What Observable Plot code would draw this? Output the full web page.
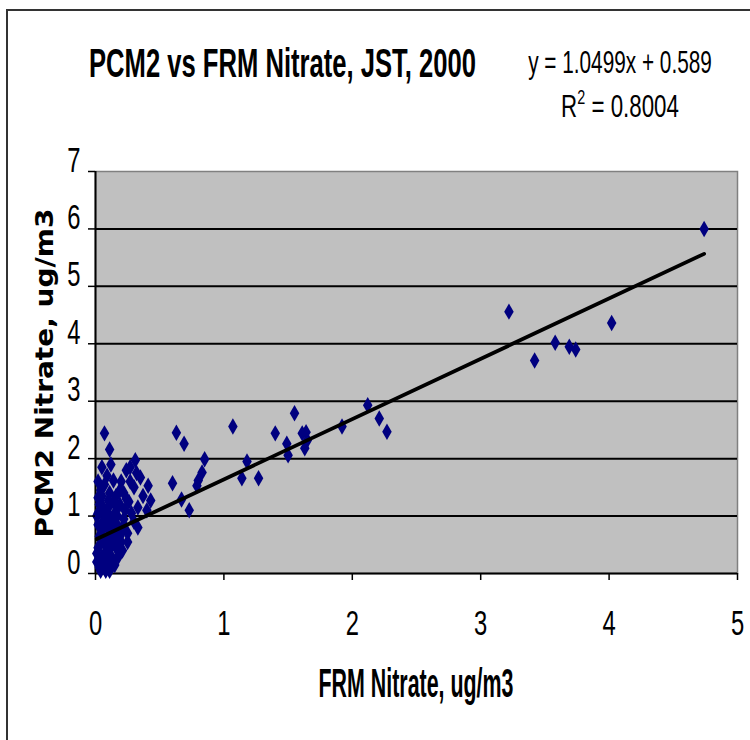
<!DOCTYPE html>
<html>
<head>
<meta charset="utf-8">
<script src="https://cdn.jsdelivr.net/npm/d3@7"></script>
<script src="https://cdn.jsdelivr.net/npm/@observablehq/plot@0.6"></script>
<style>
html, body { margin: 0; padding: 0; background: #fff; overflow: hidden; }
#wrap { position: relative; width: 750px; height: 740px; }
#border { position: absolute; left: 6px; top: 9px; width: 800px; height: 800px;
  border-left: 2px solid #333; border-top: 2px solid #333; }
#chart { position: absolute; left: 0; top: 0; }
</style>
</head>
<body>
<div id="wrap"><div id="border"></div><div id="chart"></div></div>
<script>
// ---- data ----
const frmNitrate = [
  0.05,0.14,0.27,0.31,0.35,0.30,0.19,0.41,0.43,0.33,0.10,0.04,0.02,0.33,0.25,0.19,0.14,0.04,
  0.01,0.02,0.03,0.02,0.01,0.03,0.05,0.06,0.05,0.07,0.06,0.08,0.09,0.10,0.09,0.11,0.10,0.12,
  0.13,0.14,0.13,0.15,0.14,0.16,0.17,0.18,0.17,0.19,0.20,0.21,0.22,0.23,0.24,0.04,0.07,0.11,
  0.16,0.20,0.22,0.26,0.28,0.30,0.27,0.08,0.15,0.12,0.06,0.03,0.18,0.21,0.25,0.02,0.09,0.37,
  0.40,0.32,0.24,0.07,0.11,0.12,
  0.01,0.04,0.07,0.10,0.13,0.16,0.19,0.22,0.08,0.12,0.15,0.18,0.05,0.02,0.11,0.14,0.17,0.09,0.06,
  0.60,0.63,0.69,0.67,0.73,0.85,0.83,0.80,0.79,
  1.07,1.55,1.40,1.49,1.50,1.61,1.64,1.63,1.65,1.92,2.12,2.21,2.27,1.18,1.14,1.27,
  3.22,3.42,3.58,3.69,3.74,4.02,4.74
];
const pcm2Nitrate = [
  1.85,1.62,1.85,1.97,1.67,1.50,1.45,1.53,1.27,1.15,1.27,1.10,1.32,0.80,0.70,0.40,0.23,0.10,
  0.20,0.45,0.65,0.85,1.00,1.20,0.30,0.55,0.75,0.95,1.15,0.20,0.40,0.60,0.80,1.00,1.15,0.30,
  0.50,0.70,0.90,1.05,1.25,0.45,0.60,0.80,1.00,1.20,0.55,0.75,0.95,1.10,1.30,1.45,1.55,1.40,
  1.35,1.60,1.40,1.25,1.05,0.90,1.60,0.05,0.15,0.12,0.15,0.10,0.30,0.40,0.55,1.60,1.70,1.35,
  1.10,1.75,1.80,2.44,2.16,1.90,
  0.35,0.05,0.30,0.45,0.65,0.85,0.65,0.85,1.05,0.80,0.60,0.50,1.35,1.05,0.05,0.95,1.15,0.25,0.90,
  1.57,2.45,2.26,1.29,1.10,1.99,1.76,1.62,1.53,
  2.56,2.79,2.44,2.26,2.06,2.44,2.46,2.18,2.32,2.56,2.93,2.70,2.47,1.95,1.66,1.66,
  4.56,3.71,4.02,3.95,3.90,4.36,6.00
];
const xTicks = [0, 1, 2, 3, 4, 5];
const yTicks = [0, 1, 2, 3, 4, 5, 6, 7];
const yGrid = [1, 2, 3, 4, 5, 6];
const trendSlope = 1.0499;
const trendIntercept = 0.589;
const titleText = "PCM2 vs FRM Nitrate, JST, 2000";
const equationText = "y = 1.0499x + 0.589";
const r2Value = "0.8004";
const xLabel = "FRM Nitrate, ug/m3";
const yLabel = "PCM2 Nitrate, ug/m3";

// ---- build tables ----
const points = frmNitrate.map((x, i) => ({ frm: x, pcm2: pcm2Nitrate[i] }));
const xMin = d3.min(frmNitrate), xMax = d3.max(frmNitrate);
const trend = [xMin, xMax].map(x => ({ x, y: trendSlope * x + trendIntercept }));

const chart = Plot.plot({
  width: 750, height: 740,
  marginLeft: 95, marginRight: 13, marginTop: 171, marginBottom: 167,
  x: { domain: [0, 5] },
  y: { domain: [0, 7] },
  style: { fontFamily: "'Liberation Sans', Arial, sans-serif", fontSize: "35px", background: "transparent", color: "#000", overflow: "visible" },
  marks: [
    Plot.frame({ fill: "#c0c0c0", stroke: "#808080", strokeWidth: 1.5 }),
    Plot.gridY(yGrid, { stroke: "#000", strokeOpacity: 1, strokeWidth: 2 }),
    Plot.ruleX([0], { stroke: "#000", strokeWidth: 2 }),
    Plot.ruleY([0], { stroke: "#000", strokeWidth: 2 }),
    Plot.dot(points, { x: "frm", y: "pcm2", symbol: "diamond", r: 5, fill: "#000080", stroke: "none" }),
    Plot.line(trend, { x: "x", y: "y", stroke: "#000", strokeWidth: 3.8 }),
    Plot.axisX({ ticks: xTicks, tickFormat: d => String(d), tickSize: 7, tickPadding: 54, label: null, strokeWidth: 1.5 }),
    Plot.axisY({ ticks: yTicks, tickFormat: d => String(d), tickSize: 7, tickPadding: 8, label: null, strokeWidth: 1.5 })
  ]
});
document.getElementById("chart").appendChild(chart);

// condense the tick labels horizontally, like the reference
const sTick = 0.68;
chart.querySelectorAll("text").forEach(t => {
  const tr = t.getAttribute("transform") || "";
  const x = t.getAttribute("x"), y = t.getAttribute("y");
  let extra = "";
  if (x != null || y != null) {
    extra = ` translate(${+x || 0},${+y || 0})`;
    t.removeAttribute("x"); t.removeAttribute("y");
  }
  t.setAttribute("transform", `${tr}${extra} scale(${sTick},1)`);
});

// ---- titles and annotations ----
const ann = d3.select("#wrap").append("svg")
  .attr("width", 750).attr("height", 740)
  .style("position", "absolute").style("left", "0px").style("top", "0px")
  .style("pointer-events", "none")
  .attr("font-family", "'Liberation Sans', Arial, sans-serif");

function addText(txt, x, y, size, weight, sx) {
  return ann.append("text")
    .attr("transform", `translate(${x},${y}) scale(${sx},1)`)
    .attr("text-anchor", "middle")
    .attr("font-size", size).attr("font-weight", weight)
    .attr("fill", "#000").text(txt);
}
addText(titleText, 282.5, 77, 40, "bold", 0.64);
addText(equationText, 620, 73, 32, "normal", 0.65);
const r2 = ann.append("text")
  .attr("transform", `translate(620,117) scale(0.72,1)`)
  .attr("text-anchor", "middle").attr("font-size", 31).attr("fill", "#000");
r2.append("tspan").text("R");
r2.append("tspan").attr("font-size", 20).attr("dy", -13).text("2");
r2.append("tspan").attr("dy", 13).text(" = " + r2Value);
addText(xLabel, 416, 697, 40, "bold", 0.535);
ann.append("text")
  .attr("transform", "translate(53,373) rotate(-90) scale(1,0.9)")
  .attr("text-anchor", "middle")
  .attr("font-family", "'DejaVu Sans', Verdana, sans-serif")
  .attr("font-size", 28).attr("font-weight", "bold")
  .attr("fill", "#000").text(yLabel);
</script>
</body>
</html>
